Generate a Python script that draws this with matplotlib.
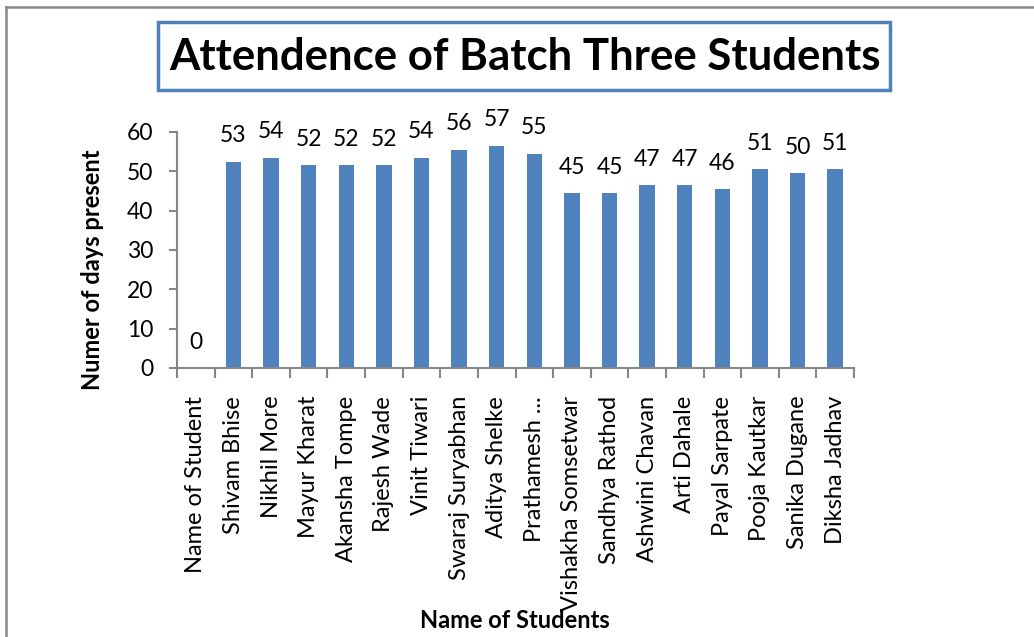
import numpy as np
import matplotlib
matplotlib.use("Agg")
import matplotlib.pyplot as plt
from matplotlib.patches import Rectangle
from matplotlib.lines import Line2D

plt.rcParams['font.family'] = ['Lato', 'DejaVu Sans']

students = ["Name of Student", "Shivam Bhise", "Nikhil More", "Mayur Kharat",
            "Akansha Tompe", "Rajesh Wade", "Vinit Tiwari", "Swaraj Suryabhan",
            "Aditya Shelke", "Prathamesh ...", "Vishakha Somsetwar",
            "Sandhya Rathod", "Ashwini Chavan", "Arti Dahale", "Payal Sarpate",
            "Pooja Kautkar", "Sanika Dugane", "Diksha Jadhav"]
days_present = [0, 52.5, 53.5, 51.5, 51.5, 51.5, 53.5, 55.5, 56.5, 54.5,
                44.5, 44.5, 46.5, 46.5, 45.5, 50.5, 49.5, 50.5]

title = "Attendence of Batch Three Students"
x_title = "Name of Students"
y_title = "Numer of days present"

bar_color = "#4F81BD"
axis_color = "#868686"

fig = plt.figure(figsize=(10.34, 6.37), dpi=100)
ax = fig.add_axes([177 / 1034, 1 - 368 / 637, (854 - 177) / 1034, (368 - 132) / 637])

x = np.arange(len(students))
bars = ax.bar(x, days_present, width=0.41, color=bar_color, zorder=2)

for xi, v in zip(x, days_present):
    ax.annotate(str(int(np.floor(v + 0.5))), (xi, v), xytext=(0, 11),
                textcoords="offset points", ha="center", va="bottom", fontsize=16.5)

ax.set_xlim(-0.5, len(students) - 0.5)
ax.set_ylim(0, 60)
ax.set_yticks(range(0, 61, 10))
ax.tick_params(axis="y", labelsize=16.5, length=6, color=axis_color, width=1.5, pad=11)

ax.set_xticks(np.arange(-0.5, len(students), 1))
ax.set_xticklabels([])
ax.tick_params(axis="x", length=7, color=axis_color, width=1.5)
ax.set_xticks(x, minor=True)
ax.set_xticklabels(students, minor=True, rotation=90, fontsize=17, va="top", ha="center")
ax.tick_params(axis="x", which="minor", length=0, pad=20)

for s in ["top", "right"]:
    ax.spines[s].set_visible(False)
for s in ["left", "bottom"]:
    ax.spines[s].set_color(axis_color)
    ax.spines[s].set_linewidth(1.5)

fig.text(92 / 1034, 1 - 270 / 637, y_title, rotation=90, ha="center", va="center",
         fontsize=17, fontweight="bold")
fig.text(515 / 1034, 1 - 620 / 637, x_title, ha="center", va="center",
         fontsize=17, fontweight="bold")

# title box
fig.patches.append(Rectangle((158 / 1034, 1 - 90 / 637), (890 - 158) / 1034, (90 - 22) / 637,
                             transform=fig.transFigure, fill=False, edgecolor=bar_color,
                             linewidth=2.5))
fig.text(525 / 1034, 1 - 57 / 637, title, ha="center", va="center",
         fontsize=31.5, fontweight="bold")

# outer chart border
fig.lines.append(Line2D([6 / 1034, 6 / 1034], [0, 1 - 7 / 637], transform=fig.transFigure,
                        color="#878787", linewidth=1.8))
fig.lines.append(Line2D([6 / 1034, 1], [1 - 7 / 637, 1 - 7 / 637], transform=fig.transFigure,
                        color="#878787", linewidth=1.8))

fig.savefig("out.png", dpi=100)
